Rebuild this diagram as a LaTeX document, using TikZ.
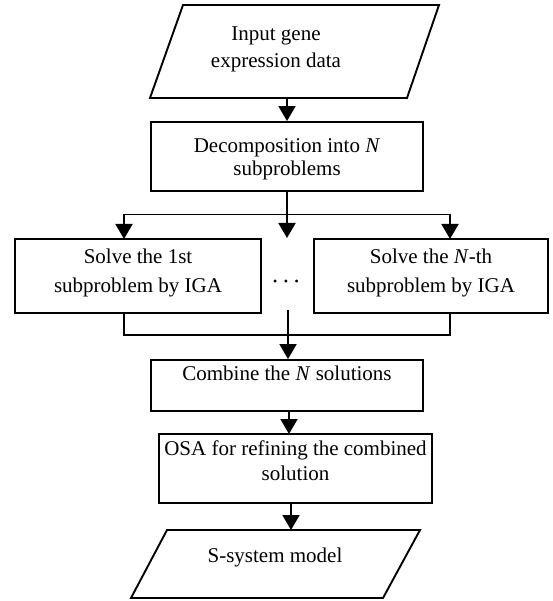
\documentclass[tikz,border=0pt]{standalone}
\usepackage{fontspec}
\setmainfont{Liberation Serif}
\usetikzlibrary{arrows.meta}
\begin{document}
\begin{tikzpicture}[x=1pt,y=-1pt,line width=1.9pt,
  arr/.style={-{Triangle[width=17pt,length=15pt]}},
  txt/.style={align=center,inner sep=0pt},
  box/.style={draw,rectangle,inner sep=0pt,align=center,text depth=0pt}]
\useasboundingbox (0,0) rectangle (552,601);
% input
\draw (183,5) coordinate (i1) -- (439,5) coordinate (i2) -- (407,98) coordinate (i3) -- (150,98) coordinate (i4) -- cycle;
\node[txt,anchor=base,font=\fontsize{21}{27}\selectfont] (in) at (276,68) {Input gene\\expression data};
\coordinate (inb) at (287,98);
% decomposition
\node[box,font=\fontsize{21}{23}\selectfont,text height=39pt,minimum width=272pt,minimum height=69pt] (dec) at (287,156.5) {Decomposition into \textit{N}\\subproblems};
\draw[arr] (inb) -- (dec.north);
% branches
\node[box,font=\fontsize{21}{29}\selectfont,text height=32pt,minimum width=246pt,minimum height=74pt] (b1) at (138,276) {Solve the 1st\\subproblem by IGA};
\node[box,font=\fontsize{21}{29}\selectfont,text height=32pt,minimum width=234pt,minimum height=74pt] (b2) at (431,276) {Solve the \textit{N}-th\\subproblem by IGA};
\node[inner sep=0pt,font=\fontsize{12}{12}\selectfont] (dots) at (286,283) {•\hspace{6.5pt}•\hspace{6.5pt}•};
\coordinate (br) at (287,214.5);
\coordinate (b1in) at (124,239);
\coordinate (b2in) at (450,239);
\coordinate (mid) at (287,238);
\draw (dec.south) -- (br);
\draw[arr] (br) -| (b1in);
\draw[arr] (br) -| (b2in);
\draw[arr] (br) -- (mid);
% merge
\coordinate (b1out) at (124,313);
\coordinate (b2out) at (450,313);
\coordinate (mg) at (124,335);
\draw (b1out) -- (mg) -| (b2out);
\coordinate (dotsb) at (288,310);
% combine
\node[box,font=\fontsize{21}{27}\selectfont,text height=14pt,text depth=25pt,minimum width=272pt,minimum height=51pt] (comb) at (287,385.5) {Combine the \textit{N} solutions};
\draw[arr] (dotsb) -- (dotsb |- comb.north);
% OSA
\node[box,font=\fontsize{21}{25}\selectfont,text height=23.6pt,minimum width=273pt,minimum height=69pt] (osa) at (295.5,468.5) {OSA for refining the combined\\solution};
\coordinate (osat) at (289,434);
\draw[arr] (comb.south -| osat) -- (osat);
% output
\draw (167,530) coordinate (o1) -- (420,530) coordinate (o2) -- (383,598) coordinate (o3) -- (131,598) coordinate (o4) -- cycle;
\node[txt,anchor=base,font=\fontsize{21}{27}\selectfont] (out) at (275,562) {S-system model};
\coordinate (outt) at (291,530);
\draw[arr] (osa.south -| outt) -- (outt);
\end{tikzpicture}
\end{document}
